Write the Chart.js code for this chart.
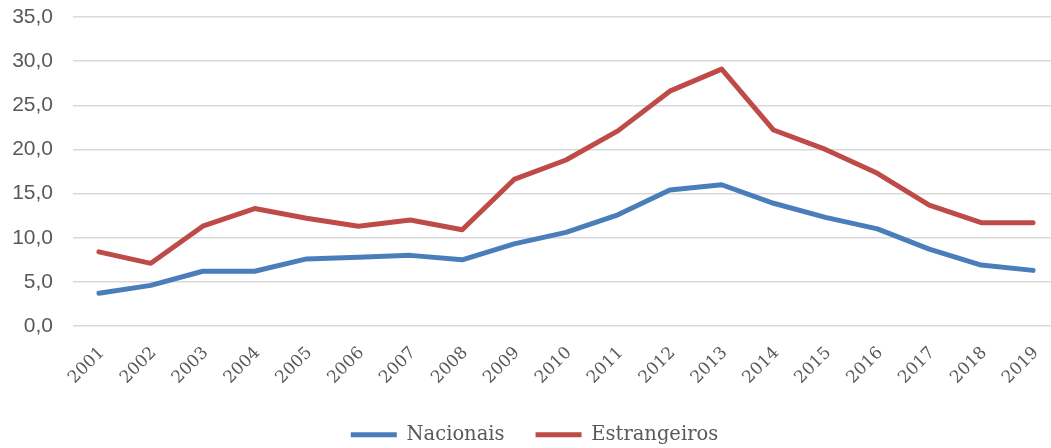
<!DOCTYPE html>
<html>
<head>
<meta charset="utf-8">
<script src="https://cdn.jsdelivr.net/npm/chart.js@4"></script>
<style>
  html, body { margin: 0; padding: 0; background: #fff; overflow: hidden; }
  #wrap { width: 1062px; height: 448px; }
</style>
</head>
<body>
<div id="wrap"><canvas id="lineChart"></canvas></div>
<script>
/*=========================================
DATA
=========================================*/

const years = ["2001", "2002", "2003", "2004", "2005", "2006", "2007", "2008", "2009", "2010",
               "2011", "2012", "2013", "2014", "2015", "2016", "2017", "2018", "2019"];

const nacionais = [3.7, 4.6, 6.2, 6.2, 7.6, 7.8, 8.0, 7.5, 9.3, 10.6,
                   12.6, 15.4, 16.0, 13.9, 12.3, 11.0, 8.7, 6.9, 6.3];

const estrangeiros = [8.4, 7.1, 11.3, 13.3, 12.2, 11.3, 12.0, 10.9, 16.6, 18.8,
                      22.1, 26.6, 29.1, 22.2, 20.0, 17.3, 13.7, 11.7, 11.7];

const yTicks = { min: 0, max: 35, step: 5 };

/*=========================================
LEGEND HEIGHT (keep item gap, fix box height)
=========================================*/

const legendHeight = {
  id: "legendHeight",
  beforeInit(chart) {
    const legend = chart.legend;
    if (!legend) return;
    const fit = legend.fit.bind(legend);
    legend.fit = function () {
      fit();
      this.height = 54;
    };
  }
};

/*=========================================
LINE CHART
=========================================*/

document.addEventListener("DOMContentLoaded", () => {

  const canvas = document.getElementById("lineChart");

  new Chart(canvas, {
    type: "line",
    data: {
      labels: years,
      datasets: [
        {
          label: "Nacionais",
          data: nacionais,
          borderColor: "#4A7EBB",
          backgroundColor: "#4A7EBB",
          borderWidth: 5,
          borderCapStyle: "round",
          borderJoinStyle: "round",
          pointRadius: 0,
          tension: 0
        },
        {
          label: "Estrangeiros",
          data: estrangeiros,
          borderColor: "#BE4B48",
          backgroundColor: "#BE4B48",
          borderWidth: 5,
          borderCapStyle: "round",
          borderJoinStyle: "round",
          pointRadius: 0,
          tension: 0
        }
      ]
    },
    options: {
      responsive: true,
      maintainAspectRatio: false,
      animation: false,
      layout: { padding: { top: 0, right: 3, left: 10, bottom: 0 } },
      scales: {
        x: {
          offset: true,
          grid: { display: false },
          border: { display: false },
          ticks: {
            color: "#595959",
            font: { family: "DejaVu Serif", size: 17 },
            minRotation: 45,
            maxRotation: 45,
            padding: 9,
            labelOffset: 3
          },
          afterFit: axis => {
            axis.height = 68;
            axis.paddingLeft = 0;
            axis.paddingRight = 0;
          }
        },
        y: {
          min: yTicks.min,
          max: yTicks.max,
          grid: { color: "#D9D9D9", lineWidth: 1.5, drawTicks: false },
          border: { display: false },
          ticks: {
            stepSize: yTicks.step,
            color: "#595959",
            font: { family: "Liberation Sans", size: 21 },
            padding: 20,
            callback: v => v.toFixed(1).replace(".", ",")
          },
          afterFit: axis => {
            axis.width = 63;
            axis.paddingTop = 17;
            axis.paddingBottom = 0;
          }
        }
      },
      plugins: {
        legend: {
          position: "bottom",
          labels: {
            color: "#595959",
            font: { family: "DejaVu Serif", size: 19.5 },
            usePointStyle: true,
            pointStyle: "line",
            pointStyleWidth: 46,
            padding: 31
          }
        },
        tooltip: { enabled: false }
      }
    },
    plugins: [legendHeight]
  });

});
</script>
</body>
</html>
